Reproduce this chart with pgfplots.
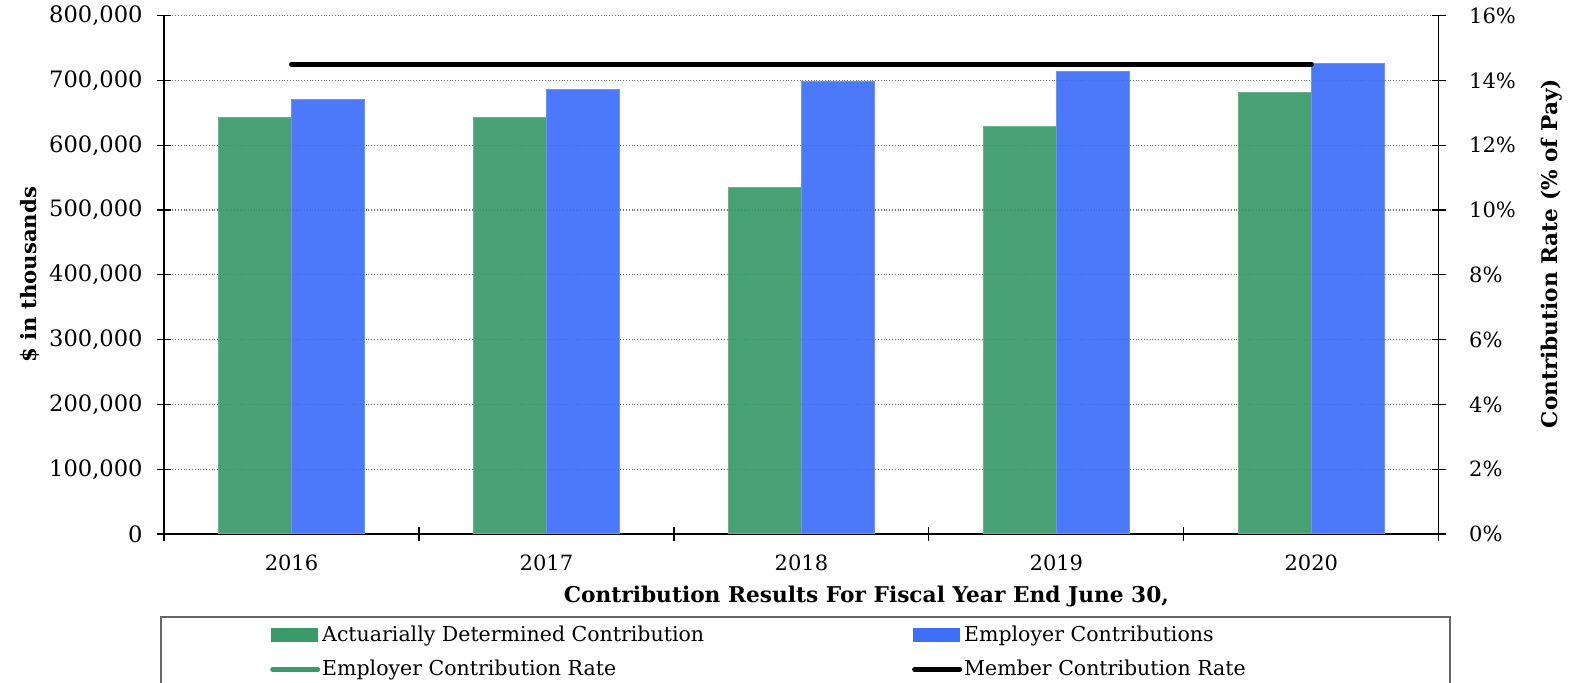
\documentclass[border=0pt]{standalone}
\usepackage{fontspec}
\setmainfont{DejaVu Serif}
\usepackage{pgfplots}
\pgfplotsset{compat=1.18}
\definecolor{adcgreen}{RGB}{58,154,106}
\definecolor{ecblue}{RGB}{62,110,250}
\definecolor{gridgray}{RGB}{110,110,110}

\pgfplotstableread{
x adc ec
0 643000 670000
1 643000 686000
2 534000 698000
3 629000 713000
4 681000 726000
}\bardata

\pgfplotstableread{
x rate
0 14.5
1 14.5
2 14.5
3 14.5
4 14.5
}\memberrate

\begin{document}
\begin{tikzpicture}
\begin{axis}[
  at={(0pt,0pt)}, anchor=south west,
  scale only axis, width=637.4pt, height=259.2pt,
  xmin=-0.5, xmax=4.5, ymin=0, ymax=800000,
  axis y line*=left, axis x line*=bottom,
  axis line style={line width=0.6pt},
  ybar=0pt, bar width=36.5pt,
  xtick={0,1,2,3,4}, xticklabels={2016,2017,2018,2019,2020},
  major x tick style={draw=none},
  extra x ticks={-0.5,0.5,1.5,2.5,3.5,4.5}, extra x tick labels={},
  extra x tick style={major tick length=7pt, tick align=center, grid=none, major x tick style={draw=black, line width=0.6pt}},
  ytick={0,100000,...,800000},
  ytick align=center, major tick length=7pt,
  y tick style={line width=0.6pt, black},
  ymajorgrids, grid style={densely dotted, gridgray, line width=0.6pt},
  scaled y ticks=false,
  /pgf/number format/.cd, fixed, 1000 sep={,}, assume math mode=true,
  /pgfplots/.cd,
  yticklabel style={anchor=east, inner sep=0pt, xshift=-7pt, font=\fontsize{11.3}{13}\selectfont},
  xticklabel style={anchor=center, inner sep=0pt, yshift=-7.5pt, font=\fontsize{10.5}{12}\selectfont},
  ylabel={\textbf{\$ in thousands}},
  ylabel style={at={(axis description cs:-0.105,0.5)}, anchor=center, rotate=0, font=\fontsize{10.6}{12}\selectfont},
  xlabel={\textbf{Contribution Results For Fiscal Year End June 30,}},
  xlabel style={at={(axis description cs:0.551,-0.12)}, anchor=center, font=\fontsize{10.85}{12}\selectfont},
  clip=false,
]
\addplot[fill=adcgreen, draw=adcgreen!75!white, line width=0.5pt, fill opacity=0.93] table[x=x, y=adc] {\bardata};
\addplot[fill=ecblue, draw=ecblue!75!white, line width=0.5pt, fill opacity=0.93] table[x=x, y=ec] {\bardata};
\end{axis}
\begin{axis}[
  at={(0pt,0pt)}, anchor=south west,
  scale only axis, width=637.4pt, height=259.2pt,
  xmin=-0.5, xmax=4.5, ymin=0, ymax=16,
  axis y line*=right, axis x line=none,
  axis line style={line width=0.6pt},
  ytick={0,2,...,16},
  ytick align=center, major tick length=7pt,
  y tick style={line width=0.6pt, black},
  yticklabel={\pgfmathprintnumber[fixed,precision=0,assume math mode=true]{\tick}\%},
  yticklabel style={anchor=west, inner sep=0pt, xshift=11.5pt, font=\fontsize{10.5}{12}\selectfont},
  ylabel={\textbf{Contribution Rate (\% of Pay)}},
  ylabel style={at={(axis description cs:1.0886,0.541)}, anchor=center, rotate=0, font=\fontsize{10.8}{12}\selectfont},
  legend columns=2,
  legend style={draw=none, fill=none, at={(axis description cs:0.083,-0.172)}, anchor=north west,
    inner sep=0pt, font=\fontsize{10.25}{12}\selectfont, row sep=6pt,
    /tikz/every even column/.append style={column sep=103pt},
    nodes={inner sep=1pt, anchor=west}},
  legend cell align=left,
  clip=false,
]
\addlegendimage{legend image code/.code={\fill[adcgreen] (0pt,-3.3pt) rectangle (23pt,3.3pt);}}
\addlegendentry{Actuarially Determined Contribution}
\addlegendimage{legend image code/.code={\fill[ecblue] (0pt,-3.3pt) rectangle (23pt,3.3pt);}}
\addlegendentry{Employer Contributions}
\addlegendimage{legend image code/.code={\draw[adcgreen, line width=2.5pt, line cap=round] (0.5pt,0pt) -- (23pt,0pt);}}
\addlegendentry{Employer Contribution Rate}
\addplot[black, line width=2.5pt, line cap=round, mark=none,
  legend image code/.code={\draw[black, line width=2.5pt, line cap=round] (0.5pt,0pt) -- (23pt,0pt);}] table[x=x, y=rate] {\memberrate};
\addlegendentry{Member Contribution Rate}
\end{axis}
\draw[gray!80!black, line width=0.6pt] (-1.5pt,-41.5pt) rectangle (643pt,-100pt);
\pgfresetboundingbox
\useasboundingbox (-82pt,-74.5pt) rectangle (706.5pt,267pt);
\end{tikzpicture}
\end{document}
